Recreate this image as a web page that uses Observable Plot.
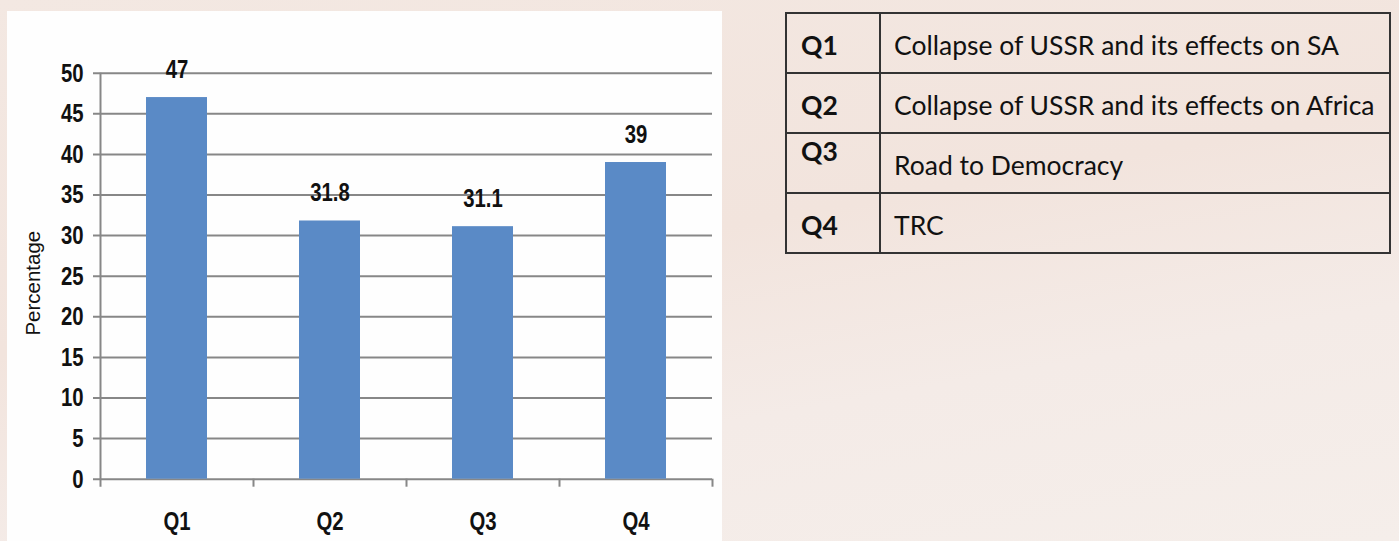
<!DOCTYPE html>
<html>
<head>
<meta charset="utf-8">
<script src="https://cdn.jsdelivr.net/npm/d3@7"></script>
<script src="https://cdn.jsdelivr.net/npm/@observablehq/plot@0.6"></script>
<style>
  html, body { margin: 0; padding: 0; }
  body {
    width: 1399px; height: 541px; overflow: hidden; position: relative;
    background: linear-gradient(170deg, #f3e8e2 0%, #f2e4dd 45%, #f4ebe7 70%, #f5eeea 100%);
  }
  #panel { position: absolute; left: 7px; top: 11px; width: 715px; height: 530px; background: #fefefe; }
  #chart { position: absolute; left: 0; top: 0; }
  #legend {
    position: absolute; left: 785px; top: 12px; width: 606px;
    border-collapse: collapse; font-family: Lato, "Open Sans", sans-serif; font-size: 26.5px; color: #111;
  }
  #legend td { border: 2px solid #333; height: 60px; padding: 0; vertical-align: middle; box-sizing: border-box; }
  #legend tr + tr td { border-top-color: #555; }
  #legend td.q { width: 94px; font-weight: bold; padding-left: 14px; padding-top: 4px; }
  #legend td.t { padding-left: 13px; padding-top: 4px; }
  #legend td.top { vertical-align: top; padding-top: 5px; line-height: 25px; }
  #legend td.low { vertical-align: bottom; padding-bottom: 11px; }
</style>
</head>
<body>
<div id="panel"></div>
<div id="chart"></div>
<table id="legend"></table>
<script>
const categories = ["Q1", "Q2", "Q3", "Q4"];
const values = [47, 31.8, 31.1, 39];
const valueLabels = ["47", "31.8", "31.1", "39"];
const yTicks = [0, 5, 10, 15, 20, 25, 30, 35, 40, 45, 50];
const yLabel = "Percentage";
const legendCodes = ["Q1", "Q2", "Q3", "Q4"];
const legendTexts = [
  "Collapse of USSR and its effects on SA",
  "Collapse of USSR and its effects on Africa",
  "Road to Democracy",
  "TRC"
];

const data = categories.map((c, i) => ({cat: c, value: values[i], label: valueLabels[i]}));

const W = 730, H = 541;
const mL = 100, mR = 18, mT = 72.7, mB = 62.3;
const step = (W - mL - mR) / categories.length;
const numFont = '"Liberation Sans", Arial, sans-serif';
const grid = "#878787";

const chart = Plot.plot({
  width: W, height: H,
  marginLeft: mL, marginRight: mR, marginTop: mT, marginBottom: mB,
  style: {background: "transparent", overflow: "visible"},
  x: {domain: categories, paddingInner: 0.6, paddingOuter: 0.3},
  y: {domain: [0, 50]},
  marks: [
    Plot.ruleY(yTicks, {y: d => d, stroke: grid, strokeWidth: 2, insetLeft: -7}),
    Plot.barY(data, {x: "cat", y: "value", fill: "#5a8ac6"}),
    Plot.ruleX([categories[0]], {x: d => d, y1: 50, y2: 0, dx: -step / 2, stroke: grid, strokeWidth: 2, insetBottom: -8}),
    Plot.ruleX(categories.slice(1), {x: d => d, y1: 0, y2: 0, dx: -step / 2, stroke: grid, strokeWidth: 2, insetBottom: -8}),
    Plot.ruleX([categories[categories.length - 1]], {x: d => d, y1: 0, y2: 0, dx: step / 2, stroke: grid, strokeWidth: 2, insetBottom: -8}),
    Plot.text(data, {x: "cat", y: "value", text: "label", dy: -28, lineAnchor: "middle",
      fontFamily: numFont, fontWeight: "bold", fontSize: 26, fill: "#111"}),
    Plot.axisY({ticks: yTicks, tickSize: 0, tickPadding: 17, label: null,
      fontFamily: numFont, fontWeight: "bold", fontSize: 26, fill: "#111"}),
    Plot.axisX({tickSize: 0, tickPadding: 32, label: null,
      fontFamily: numFont, fontWeight: "bold", fontSize: 26, fill: "#111"}),
    Plot.text([yLabel], {text: d => d, frameAnchor: "left", rotate: -90, dx: -67, dy: 7,
      textAnchor: "middle", lineAnchor: "middle",
      fontFamily: '"Liberation Sans", Arial, sans-serif', fontSize: 20.5, fill: "#111"})
  ]
});
document.getElementById("chart").appendChild(chart);

// condense the bold numeric labels horizontally (the original uses a narrow face)
d3.select(chart).selectAll("text").each(function() {
  if (this.textContent === yLabel) return;
  const len = this.getComputedTextLength();
  if (len > 0) {
    this.setAttribute("textLength", (len * 0.78).toFixed(1));
    this.setAttribute("lengthAdjust", "spacingAndGlyphs");
  }
});

const table = document.getElementById("legend");
legendCodes.forEach((code, i) => {
  const tr = document.createElement("tr");
  const a = document.createElement("td");
  a.className = "q" + (i === 2 ? " top" : "");
  a.textContent = code;
  const b = document.createElement("td");
  b.className = "t" + (i === 2 ? " low" : "");
  b.textContent = legendTexts[i];
  tr.appendChild(a); tr.appendChild(b);
  table.appendChild(tr);
});
</script>
</body>
</html>
